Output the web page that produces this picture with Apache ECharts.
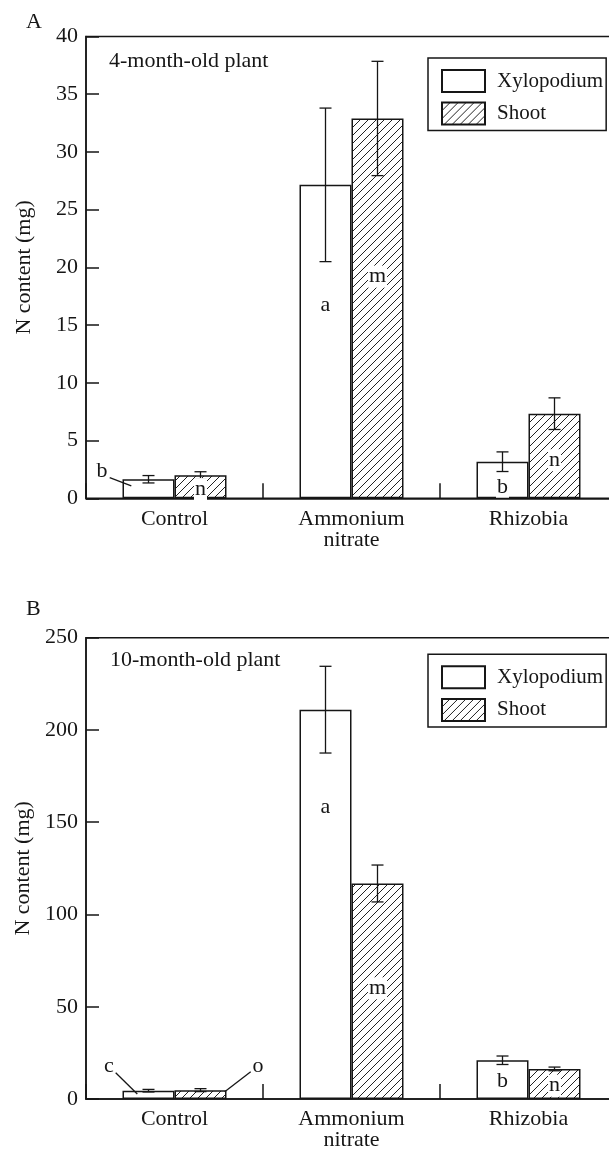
<!DOCTYPE html>
<html><head><meta charset="utf-8">
<script src="https://cdn.jsdelivr.net/npm/echarts@6/dist/echarts.min.js"></script>
<style>html,body{margin:0;padding:0;background:#fff}#c{width:609px;height:1151px}</style>
</head><body><div id="c"></div>
<script>
// ---------- DATA ----------
const categories = ['Control', 'Ammonium\nnitrate', 'Rhizobia'];
const seriesNames = ['Xylopodium', 'Shoot'];
// Panel A: 4-month-old plant (N content, mg)
const xyloA = [1.65, 27.15, 3.17];
const xyloErrA = [0.32, 6.65, 0.85];
const shootA = [2.0, 32.9, 7.33];
const shootErrA = [0.3, 4.95, 1.37];
const xyloLettersA = ['b', 'a', 'b'];
const shootLettersA = ['n', 'm', 'n'];
// Panel B: 10-month-old plant (N content, mg)
const xyloB = [4.5, 211, 21];
const xyloErrB = [0.7, 23.5, 2.3];
const shootB = [4.8, 116.8, 16.3];
const shootErrB = [0.8, 10, 1.0];
const xyloLettersB = ['c', 'a', 'b'];
const shootLettersB = ['o', 'm', 'n'];
// axis ranges
const yAxisA = {min: 0, max: 40, step: 5};
const yAxisB = {min: 0, max: 250, step: 50};
const panelTitles = ['4-month-old plant', '10-month-old plant'];
const panelLetters = ['A', 'B'];
const yName = 'N content (mg)';

// ---------- LAYOUT (annotation placement in data units / px offsets) ----------
const letterLayoutA = {
  xylo: [{y: 2.37, dx: -46.5, leader: [7.7, 6.7, 29.3, 15]}, {y: 16.75, dx: 0}, {y: 1.0, dx: 0}],
  shoot: [{y: 0.8, dx: 0}, {y: 19.2, dx: 0}, {y: 3.3, dx: 0}]
};
const letterLayoutB = {
  xylo: [{y: 17.5, dx: -39.5, leader: [6.7, 6, 28.3, 27.3]}, {y: 158.3, dx: 0}, {y: 9.4, dx: 0}],
  shoot: [{y: 17.5, dx: 57.5, leader: [-7.3, 5, -33.3, 25]}, {y: 60, dx: 0}, {y: 7.2, dx: 0}]
};

const FONT = 'Liberation Serif, Times New Roman, serif';
const INK = '#161616';
const BAR_W = 52;

function makeHatch() {
  const s = 8, c = document.createElement('canvas');
  c.width = s; c.height = s;
  const g = c.getContext('2d');
  g.fillStyle = '#fff'; g.fillRect(0, 0, s, s);
  g.strokeStyle = '#222'; g.lineWidth = 1;
  g.beginPath();
  g.moveTo(-1, s + 1); g.lineTo(s + 1, -1);
  g.moveTo(-1, 1); g.lineTo(1, -1);
  g.moveTo(s - 1, s + 1); g.lineTo(s + 1, s - 1);
  g.stroke();
  return c;
}
const hatch = {image: makeHatch(), repeat: 'repeat'};

function errSeries(gi, vals, errs, side) {
  return {
    type: 'custom', xAxisIndex: gi, yAxisIndex: gi, z: 5, silent: true,
    data: vals.map((v, i) => [i, v, errs[i]]),
    encode: {x: 0, y: 1},
    renderItem: function (params, api) {
      const i = api.value(0), v = api.value(1), e = api.value(2);
      const x = api.coord([i, v])[0] + side * BAR_W / 2;
      const yHi = api.coord([i, v + e])[1];
      const yLo = api.coord([i, v - e])[1];
      const st = {stroke: INK, lineWidth: 1.3};
      return {type: 'group', children: [
        {type: 'line', shape: {x1: x, y1: yHi, x2: x, y2: yLo}, style: st},
        {type: 'line', shape: {x1: x - 6, y1: yHi, x2: x + 6, y2: yHi}, style: st},
        {type: 'line', shape: {x1: x - 6, y1: yLo, x2: x + 6, y2: yLo}, style: st}
      ]};
    }
  };
}

function letterSeries(gi, letters, layout, side) {
  return {
    type: 'custom', xAxisIndex: gi, yAxisIndex: gi, z: 6, silent: true,
    data: letters.map((l, i) => [i, layout[i].y]),
    encode: {x: 0, y: 1},
    renderItem: function (params, api) {
      const i = api.value(0);
      const lay = layout[i];
      const p = api.coord([i, api.value(1)]);
      const x = p[0] + side * BAR_W / 2 + lay.dx, y = p[1];
      const children = [{
        type: 'text', z2: 10,
        style: {x: x, y: y, text: letters[i], font: '22px ' + FONT, fill: INK,
          align: 'center', verticalAlign: 'middle', backgroundColor: '#fff', padding: [0, 1, 0, 1]}
      }];
      if (lay.leader) {
        const L = lay.leader;
        children.push({type: 'line', shape: {x1: x + L[0], y1: y + L[1], x2: x + L[2], y2: y + L[3]},
          style: {stroke: INK, lineWidth: 1.3}});
      }
      return {type: 'group', children: children};
    }
  };
}

const lineSt = {color: INK, width: 1.5};
function xAx(gi) {
  return {
    type: 'category', gridIndex: gi, data: categories,
    axisLine: {show: true, lineStyle: lineSt},
    axisTick: {show: true, inside: true, length: 15, lineStyle: lineSt},
    axisLabel: {interval: 0, fontFamily: FONT, fontSize: 22, color: INK, margin: 10, lineHeight: 21},
    splitLine: {show: false}
  };
}
function yAx(gi, r) {
  return {
    type: 'value', gridIndex: gi, min: r.min, max: r.max, interval: r.step,
    name: yName, nameLocation: 'middle', nameGap: 51,
    nameTextStyle: {fontFamily: FONT, fontSize: 22, color: INK},
    axisLine: {show: true, lineStyle: lineSt},
    axisTick: {show: true, inside: true, length: 13, lineStyle: lineSt},
    axisLabel: {fontFamily: FONT, fontSize: 22, color: INK, margin: 8},
    splitLine: {show: false}
  };
}
function legend(top) {
  return {
    data: seriesNames, orient: 'vertical', left: 428, top: top,
    itemWidth: 43, itemHeight: 22, itemGap: 8.6, icon: 'rect',
    padding: [11, 3, 5, 13], borderColor: INK, borderWidth: 1.5,
    selectedMode: false,
    textStyle: {fontFamily: FONT, fontSize: 21, color: INK, padding: [0, 0, 0, 7]}
  };
}
function bars(gi, xv, sv) {
  return [
    {type: 'bar', name: seriesNames[0], xAxisIndex: gi, yAxisIndex: gi, data: xv,
      barWidth: BAR_W, barGap: '0%', z: 2,
      itemStyle: {color: '#fff', borderColor: INK, borderWidth: 1.5}},
    {type: 'bar', name: seriesNames[1], xAxisIndex: gi, yAxisIndex: gi, data: sv,
      barWidth: BAR_W, barGap: '0%', z: 2,
      itemStyle: {color: hatch, borderColor: INK, borderWidth: 1.5}}
  ];
}
const tStyle = (fs) => ({fontFamily: FONT, fontSize: fs, fontWeight: 'normal', color: INK});

const option = {
  animation: false,
  backgroundColor: '#fff',
  title: [
    {text: panelLetters[0], left: 26, top: 11, padding: 0, textStyle: tStyle(22)},
    {text: panelTitles[0], left: 109, top: 50, padding: 0, textStyle: tStyle(22)},
    {text: panelLetters[1], left: 26, top: 598, padding: 0, textStyle: tStyle(22)},
    {text: panelTitles[1], left: 110, top: 649, padding: 0, textStyle: tStyle(22)}
  ],
  legend: [legend(58), legend(654.3)],
  grid: [
    {left: 86, top: 36.5, width: 531, height: 461.8, outerBoundsMode: 'none', containLabel: false,
      show: true, borderColor: INK, borderWidth: 1.5, backgroundColor: 'transparent'},
    {left: 86, top: 637.7, width: 531, height: 461.3, outerBoundsMode: 'none', containLabel: false,
      show: true, borderColor: INK, borderWidth: 1.5, backgroundColor: 'transparent'}
  ],
  xAxis: [xAx(0), xAx(1)],
  yAxis: [yAx(0, yAxisA), yAx(1, yAxisB)],
  series: [
    ...bars(0, xyloA, shootA),
    ...bars(1, xyloB, shootB),
    errSeries(0, xyloA, xyloErrA, -1), errSeries(0, shootA, shootErrA, 1),
    errSeries(1, xyloB, xyloErrB, -1), errSeries(1, shootB, shootErrB, 1),
    letterSeries(0, xyloLettersA, letterLayoutA.xylo, -1), letterSeries(0, shootLettersA, letterLayoutA.shoot, 1),
    letterSeries(1, xyloLettersB, letterLayoutB.xylo, -1), letterSeries(1, shootLettersB, letterLayoutB.shoot, 1)
  ]
};
const chart = echarts.init(document.getElementById('c'), null, {renderer: 'canvas'});
chart.setOption(option);
</script>
</body></html>
